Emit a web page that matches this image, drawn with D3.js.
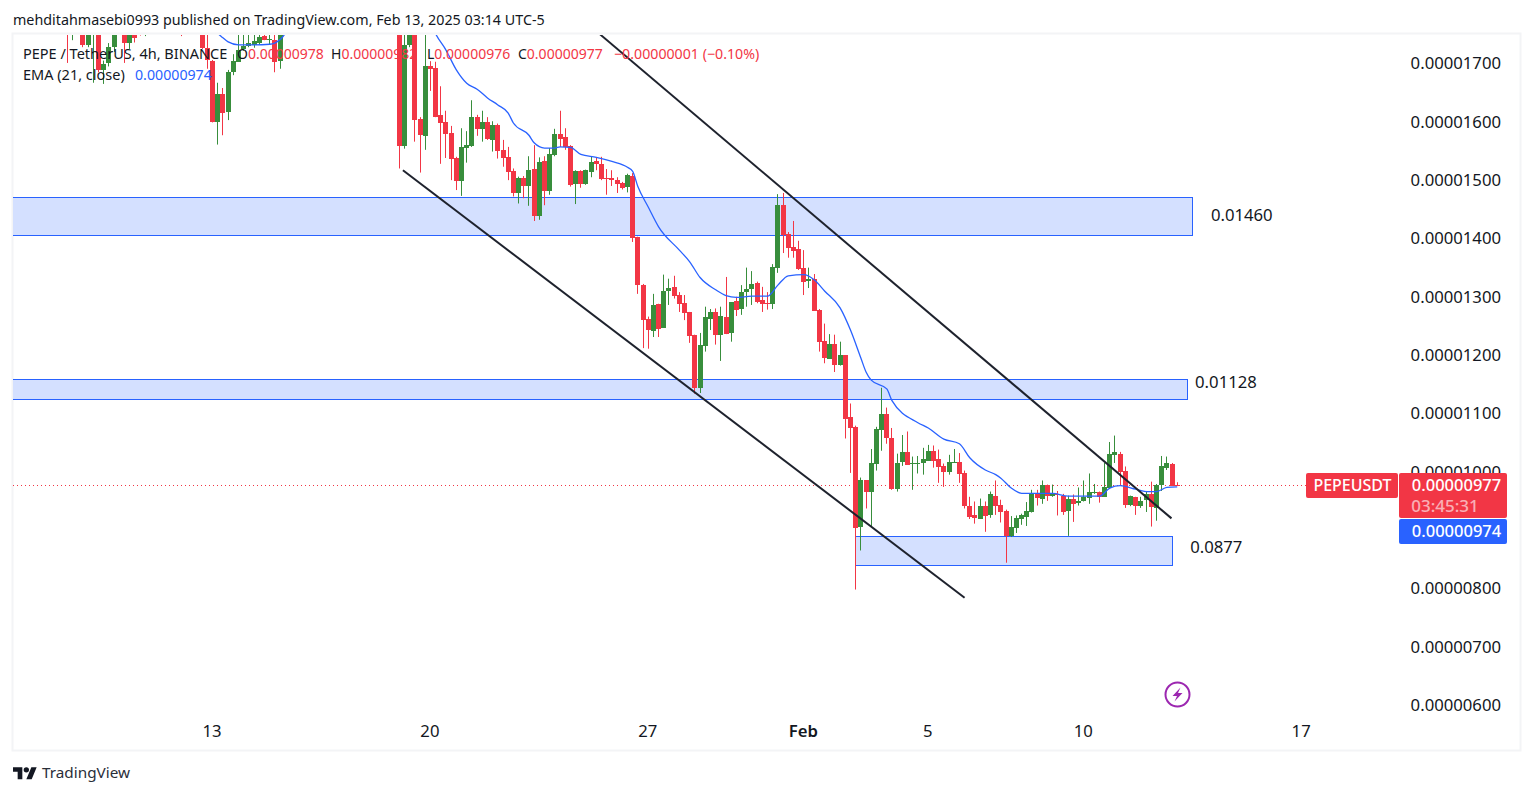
<!DOCTYPE html>
<html>
<head>
<meta charset="utf-8">
<script src="https://cdn.jsdelivr.net/npm/d3@7"></script>
<style>
  html, body { margin: 0; padding: 0; background: #fff; overflow: hidden; }
  svg { display: block; }
  text { font-family: "Noto Sans", sans-serif; fill: #131722; }
</style>
</head>
<body>
<div id="chart"></div>
<script>
// Prices are in units of 0.00000001 USDT. Slots count 4h candles, slot 0 sits just before Jan 20.
const firstSlot = -64;

// open, high, low, close per candle (anything above 1749 is out of view)
const ohlc = [
  [1790,1800,1701,1760],[1760,1800,1740,1790],[1790,1810,1760,1780],[1790,1800,1728,1732],
  [1732,1795,1728,1790],[1760,1800,1667,1790],[1790,1795,1685,1689],[1690,1705,1665,1700],
  [1700,1735,1695,1728],[1727,1770,1720,1755],[1760,1790,1752,1780],[1770,1780,1701,1735],
  [1735,1780,1725,1770],[1780,1785,1736,1744],[1790,1800,1748,1770],[1770,1800,1747,1790],
  [1790,1830,1770,1820],[1820,1850,1800,1840],[1840,1860,1810,1815],[1815,1840,1790,1830],
  [1830,1850,1800,1810],[1810,1830,1770,1790],[1800,1810,1747,1780],[1780,1810,1765,1800],
  [1800,1820,1770,1790],[1790,1810,1765,1785],[1780,1790,1725,1727],[1727,1752,1691,1706],
  [1704,1706,1599,1600],[1600,1667,1561,1648],[1648,1658,1577,1616],[1616,1689,1603,1685],
  [1685,1716,1680,1704],[1703,1760,1703,1723],[1724,1760,1722,1730],[1730,1760,1728,1735],
  [1732,1760,1727,1739],[1735,1760,1732,1746],[1747,1760,1740,1740],[1740,1760,1732,1742],
  [1740,1760,1685,1703],[1703,1770,1691,1750],
  [1750,1800,1755,1790],[1790,1830,1770,1820],[1820,1860,1800,1850],[1850,1890,1830,1880],
  [1880,1910,1860,1900],[1900,1930,1880,1890],[1890,1920,1860,1910],[1910,1950,1890,1940],
  [1940,1970,1920,1930],[1930,1960,1900,1950],[1950,1980,1930,1960],[1960,1990,1930,1940],
  [1940,1960,1900,1920],[1920,1950,1890,1900],[1900,1930,1870,1910],[1910,1930,1870,1880],
  [1880,1910,1840,1860],[1860,1890,1830,1870],[1870,1890,1820,1830],[1830,1860,1790,1810],
  [1810,1830,1770,1800],[1800,1820,1760,1790],
  [1800,1810,1520,1559],[1559,1780,1554,1732],[1732,1800,1728,1790],[1790,1800,1566,1603],
  [1605,1608,1513,1577],[1576,1760,1552,1696],[1696,1704,1653,1691],[1692,1703,1608,1608],
  [1612,1661,1528,1598],[1599,1619,1538,1579],[1581,1593,1500,1536],[1538,1540,1483,1499],
  [1499,1589,1473,1557],[1555,1584,1530,1560],[1559,1637,1557,1608],[1608,1612,1576,1588],
  [1588,1619,1566,1600],[1600,1608,1569,1571],[1569,1601,1549,1595],[1595,1597,1537,1550],
  [1552,1569,1523,1538],[1540,1557,1500,1514],[1516,1520,1472,1478],[1478,1506,1460,1504],
  [1504,1507,1469,1490],[1490,1541,1456,1517],[1519,1560,1430,1439],[1439,1539,1432,1531],
  [1533,1541,1457,1481],[1481,1555,1475,1545],[1543,1588,1541,1579],[1579,1619,1557,1571],
  [1574,1589,1552,1557],[1559,1560,1489,1492],[1493,1517,1459,1516],[1516,1517,1487,1493],
  [1493,1518,1492,1517],[1514,1540,1505,1531],[1533,1539,1517,1527],[1528,1540,1500,1502],
  [1504,1519,1475,1502],[1504,1517,1490,1500],[1500,1505,1478,1493],[1495,1497,1484,1487],
  [1488,1511,1479,1509],[1507,1512,1394,1401],[1403,1403,1305,1320],[1320,1322,1212,1260],
  [1262,1266,1211,1243],[1242,1305,1231,1286],[1288,1288,1231,1245],[1247,1338,1247,1310],
  [1310,1331,1286,1315],[1317,1336,1297,1302],[1303,1308,1274,1288],[1290,1303,1260,1272],
  [1274,1274,1221,1233],[1235,1235,1134,1144],[1144,1238,1135,1218],[1216,1283,1206,1266],
  [1262,1279,1243,1274],[1274,1280,1218,1235],[1235,1283,1190,1267],[1266,1334,1236,1236],
  [1238,1291,1223,1291],[1293,1300,1267,1278],[1278,1320,1269,1308],[1308,1350,1283,1314],
  [1314,1344,1286,1322],[1324,1326,1289,1291],[1295,1317,1274,1288],[1290,1308,1278,1288],
  [1288,1356,1279,1351],[1350,1476,1341,1458],[1458,1478,1375,1406],[1408,1411,1367,1384],
  [1386,1430,1367,1379],[1382,1396,1346,1348],[1350,1380,1303,1326],[1327,1350,1315,1331],
  [1331,1339,1276,1276],[1278,1279,1206,1223],[1224,1254,1186,1194],[1194,1236,1194,1219],
  [1219,1235,1171,1183],[1182,1223,1182,1200],[1200,1200,1057,1091],[1094,1117,998,1075],
  [1077,1079,798,904],[904,990,865,985],[985,985,937,964],[966,1039,907,1015],
  [1014,1077,1002,1074],[1072,1144,1036,1099],[1099,1110,1048,1057],[1058,1075,969,971],
  [971,1031,966,1015],[1015,1063,1010,1033],[1034,1069,1012,1012],[1014,1026,969,1015],
  [1014,1027,997,1015],[1014,1041,995,1021],[1019,1046,1019,1036],[1036,1045,1007,1019],
  [1021,1038,981,1007],[1010,1014,974,1000],[1000,1029,995,1017],[1015,1039,1015,1017],
  [1017,1032,981,997],[998,1002,937,942],[942,957,919,923],[925,949,911,919],
  [919,954,919,942],[942,949,897,925],[925,966,921,961],[959,985,926,942],
  [943,952,913,931],[933,935,844,890],[890,924,888,906],[904,925,895,921],
  [919,928,909,926],[923,948,907,933],[931,969,930,962],[962,969,942,955],
  [954,985,945,978],[978,978,950,959],[959,978,957,962],[961,967,925,959],
  [959,962,926,931],[933,959,890,954],[954,961,914,945],[947,973,942,950],
  [950,985,949,957],[955,997,945,966],[964,979,962,966],[966,966,947,957],
  [957,1015,957,974],[973,1051,973,1031],[1027,1062,1015,1033],[1031,1034,976,1000],
  [1002,1009,938,943],[943,959,941,959],[957,957,926,942],[942,957,938,950],
  [950,967,931,961],[961,983,906,938],[938,979,916,978],[977,1027,967,1009],
  [1007,1026,1003,1015],[1014,1015,977,977],[978,982,976,977]
];

// EMA 21, only the bends
const emaSlots = [-37,-35,-34,-33,-31,-28,-25,-24,-22,-21,-10,3,7,9,11,13,15,17,19,21,22,25,26,28,30,31,33,35,38,41,44,45,46,48,50,54,56,58,61,63,65,68,71,73,75,78,80,82,85,87,89,90,91,94,95,100,102,105,108,110,113,115,116,118,120,126,129,135,137,139,142,144,146,148,150];
const emaValues = [1790,1752,1744,1737,1732,1732,1733,1735,1752,1775,1950,1850,1751,1723,1689,1666,1656,1641,1629,1615,1598,1577,1564,1555,1555,1557,1556,1544,1539,1532,1522,1515,1489,1454,1420,1380,1360,1333,1312,1302,1299,1301,1301,1320,1336,1338,1329,1310,1281,1243,1195,1171,1157,1142,1122,1084,1075,1056,1048,1024,1003,995,989,972,963,963,958,958,972,976,970,966,966,973,974];

// support / resistance boxes: [left slot, right slot, top price, bottom price]
const zones = [[-80,153,1471,1405],[-80,152,1159,1125],[87.8,149,889,840]];
const zoneLabels = ["0.01460","0.01128","0.0877"];
const zoneLabelSlots = [156.5,153.45,152.5];
const zoneLabelPrices = [1440,1154,870];

// channel lines: [slot, price, slot, price]
const channels = [[0.7,1517,109,784],[38.7,1750,148.9,920]];

const priceTicks = [600,700,800,900,1000,1100,1200,1300,1400,1500,1600,1700];
const dayTickSlots = [-36,6,48,78,102,132,174];
const dayTickLabels = ["13","20","27","Feb","5","10","17"];
const lastClose = 977;
const lastEma = 974;

const width = 1533;
const height = 795;
const upColor = "#388e3c";
const downColor = "#f23645";
const blue = "#2962ff";

const priceLabel = v => (v * 1e-8).toFixed(8);

const svg = d3.select("#chart").append("svg")
    .attr("width", width)
    .attr("height", height);

svg.append("rect").attr("width", width).attr("height", height).attr("fill", "#fff");

// Pane border
svg.append("rect")
    .attr("x", 12.5).attr("y", 33.5)
    .attr("width", 1508).attr("height", 717)
    .attr("fill", "none")
    .attr("stroke", "#f3f4f6")
    .attr("stroke-width", 2);

const x = d3.scaleLinear().domain([0, 150]).range([399.3, 1177.2]);
const y = d3.scaleLinear().domain([600, 1700]).range([705, 63.5]);

svg.append("defs").append("clipPath").attr("id", "pane")
    .append("rect").attr("x", 13).attr("y", 35).attr("width", 1507).attr("height", 715);

const pane = svg.append("g").attr("clip-path", "url(#pane)");

// Boxes under the candles
pane.selectAll("rect.zone")
    .data(zones)
    .enter()
    .append("rect")
    .attr("class", "zone")
    .attr("x", d => Math.round(x(d[0])) + 0.5)
    .attr("y", d => Math.round(y(d[2])) + 0.5)
    .attr("width", d => Math.round(x(d[1]) - x(d[0])))
    .attr("height", d => Math.round(y(d[3]) - y(d[2])))
    .attr("fill", "#d4e0ff")
    .attr("stroke", blue)
    .attr("stroke-width", 1);

// Last price line
pane.append("line")
    .attr("x1", 13).attr("x2", 1306)
    .attr("y1", Math.round(y(lastClose)) + 0.5)
    .attr("y2", Math.round(y(lastClose)) + 0.5)
    .attr("stroke", downColor)
    .attr("stroke-dasharray", "1 3");

// Candles
const candleX = (d, i) => Math.round(x(i + firstSlot) - 0.5);
const candle = pane.selectAll("g.candle")
    .data(ohlc)
    .enter()
    .append("g")
    .attr("class", "candle")
    .attr("fill", d => d[3] >= d[0] ? upColor : downColor);

candle.append("rect")
    .attr("x", candleX)
    .attr("width", 1)
    .attr("y", d => y(d[1]))
    .attr("height", d => y(d[2]) - y(d[1]));

candle.append("rect")
    .attr("x", (d, i) => candleX(d, i) - 2)
    .attr("width", 5)
    .attr("y", d => Math.round(y(Math.max(d[0], d[3]))))
    .attr("height", d => Math.max(1, Math.round(Math.abs(y(d[0]) - y(d[3])))));

// EMA
const emaLine = d3.line()
    .x((d, i) => x(emaSlots[i]))
    .y(d => y(d))
    .curve(d3.curveMonotoneX);

pane.append("path")
    .attr("d", emaLine(emaValues))
    .attr("fill", "none")
    .attr("stroke", blue)
    .attr("stroke-width", 1.3);

// Channel
pane.selectAll("line.channel")
    .data(channels)
    .enter()
    .append("line")
    .attr("class", "channel")
    .attr("x1", d => x(d[0]))
    .attr("y1", d => y(d[1]))
    .attr("x2", d => x(d[2]))
    .attr("y2", d => y(d[3]))
    .attr("stroke", "#1e222d")
    .attr("stroke-width", 2);

// Box labels
svg.selectAll("text.zone-label")
    .data(zoneLabels)
    .enter()
    .append("text")
    .attr("class", "zone-label")
    .attr("x", (d, i) => x(zoneLabelSlots[i]))
    .attr("y", (d, i) => y(zoneLabelPrices[i]))
    .attr("dy", "0.35em")
    .style("font-size", "16.7px")
    .text(d => d);

// Axes
const priceAxis = svg.append("g")
    .attr("transform", "translate(1501,0)")
    .call(d3.axisLeft(y).tickValues(priceTicks).tickSize(0).tickPadding(0).tickFormat(priceLabel));
priceAxis.select(".domain").remove();
priceAxis.selectAll("text")
    .style("font-size", "16.7px")
    .style("font-family", '"Noto Sans", sans-serif')
    .style("fill", "#131722");

const timeAxis = svg.append("g")
    .attr("transform", "translate(-1,725)")
    .call(d3.axisBottom(x).tickValues(dayTickSlots).tickSize(0).tickPadding(0)
        .tickFormat((d, i) => dayTickLabels[i]));
timeAxis.select(".domain").remove();
timeAxis.selectAll("text")
    .style("font-size", "16.7px")
    .style("font-family", '"Noto Sans", sans-serif')
    .style("font-weight", d => d === 78 ? 600 : 400)
    .style("fill", "#131722");

// Price tags
const tagText = (txt, tx, ty, size, fill, opacity) => svg.append("text")
    .attr("x", tx).attr("y", ty)
    .attr("dy", "0.35em")
    .attr("text-anchor", "middle")
    .style("font-size", size + "px")
    .style("font-weight", 500)
    .style("fill", fill)
    .style("opacity", opacity)
    .text(txt);

svg.append("rect").attr("x", 1306).attr("y", 473).attr("width", 92).attr("height", 25).attr("rx", 2).attr("fill", downColor);
svg.append("rect").attr("x", 1399).attr("y", 473).attr("width", 108).attr("height", 45).attr("rx", 2).attr("fill", downColor);
svg.append("rect").attr("x", 1399).attr("y", 519).attr("width", 108).attr("height", 25).attr("rx", 2).attr("fill", blue);
tagText("PEPEUSDT", 1352.5, 485.5, 16, "#fff", 1);
tagText(priceLabel(lastClose), 1456.5, 485.5, 16.5, "#fff", 1);
tagText("03:45:31", 1445, 506, 17, "#fff", 0.6);
tagText(priceLabel(lastEma), 1456.5, 531.5, 16.5, "#fff", 1);

// Legend
const legendRow = (tx, ty, size, parts) => {
    const t = svg.append("text").attr("x", tx).attr("y", ty).attr("dy", "0.35em").style("font-size", size + "px");
    parts.forEach(p => t.append("tspan").style("fill", p[1]).text(p[0]));
};
legendRow(23, 54, 14.5, [["PEPE / TetherUS, 4h, BINANCE", "#131722"]]);
legendRow(237, 54, 14, [["O", "#131722"], ["0.00000978", downColor]]);
legendRow(331, 54, 14, [["H", "#131722"], ["0.00000982", downColor]]);
legendRow(427, 54, 14, [["L", "#131722"], ["0.00000976", downColor]]);
legendRow(518, 54, 14, [["C", "#131722"], ["0.00000977", downColor]]);
legendRow(614, 54, 14.2, [["\u22120.00000001 (\u22120.10%)", downColor]]);
legendRow(23, 75, 14.5, [["EMA (21, close)", "#131722"]]);
legendRow(135, 75, 14.2, [["0.00000974", blue]]);

// Header and footer
svg.append("text").attr("x", 13).attr("y", 20).attr("dy", "0.35em")
    .style("font-size", "14.3px")
    .text("mehditahmasebi0993 published on TradingView.com, Feb 13, 2025 03:14 UTC-5");

const logo = svg.append("g").attr("transform", "translate(13,764.5) scale(0.667)").attr("fill", "#131722");
logo.append("path").attr("d", "M14 22H7V11H0V4h14v18zM28 22h-8l7.5-18h8L28 22z");
logo.append("circle").attr("cx", 20).attr("cy", 8).attr("r", 4);

svg.append("text").attr("x", 42).attr("y", 773).attr("dy", "0.35em")
    .style("font-size", "15.3px")
    .style("fill", "#2a2e39")
    .text("TradingView");

// Bolt icon
const bolt = svg.append("g").attr("transform", "translate(1177.5,694.5)");
bolt.append("circle").attr("r", 12).attr("fill", "#fff").attr("stroke", "#9c27b0").attr("stroke-width", 2);
bolt.append("path").attr("d", "M3,-7 L-5,1.5 L-0.5,1.5 L-3,7 L5,-1.5 L0.5,-1.5 Z").attr("fill", "#9c27b0");
</script>
</body>
</html>
